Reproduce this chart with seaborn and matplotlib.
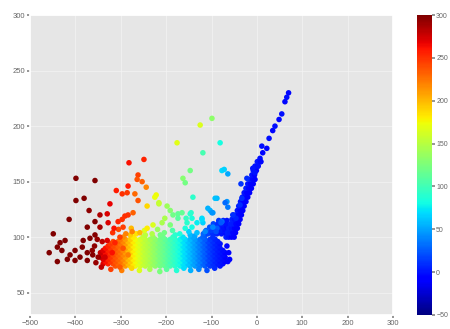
import numpy as np
import pandas as pd
import matplotlib
matplotlib.use("Agg")
import matplotlib.pyplot as plt
import seaborn as sns

# dense horizontal band: two staggered column sets and their colour values
band_a_x = [-345, -334, -323, -312, -301, -290, -279, -268, -257, -246, -235, -224, -213,
            -202, -191, -180, -169, -158, -147, -136, -125, -114, -103, -92, -81, -70]
band_a_c = [278, 263, 249, 237, 226, 210, 193, 175, 162, 152, 142, 132, 122,
            112, 101, 90, 79, 68, 57, 46, 35, 24, 14, 6, 0, -5]
band_b_x = [-350, -339, -328, -317, -306, -295, -284, -273, -262, -251, -240, -229, -218,
            -207, -196, -185, -174, -163, -152, -141, -130, -119, -108, -97, -86, -75]
band_b_c = [285, 270, 256, 242, 231, 218, 200, 182, 168, 156, 147, 137, 126,
            117, 106, 95, 84, 73, 62, 51, 40, 29, 18, 10, 3, -3]
# rows of the band: (y, column set, first col, last col, step)
band_rows = [(74, 'a', 3, 24, 1), (76, 'b', 1, 25, 1),
             (78, 'a', 1, 25, 1), (80, 'b', 1, 25, 1), (82, 'a', 0, 25, 1),
             (84, 'b', 1, 25, 1), (86, 'a', 0, 25, 1), (88, 'b', 1, 25, 1),
             (90, 'a', 1, 24, 1), (92, 'b', 2, 24, 1), (94, 'a', 2, 24, 1),
             (96, 'b', 3, 24, 1), (98, 'a', 4, 23, 1), (100, 'b', 5, 23, 2),
             (102, 'a', 6, 22, 3)]

# ragged edges of the band
edge_x = [-322, -298, -276, -259, -236, -214, -199, -177, -161, -146, -128, -110, -93,
          -318, -305, -289, -277, -266, -248, -231, -219, -204, -186, -170, -150, -137,
          -358, -362, -355, -343, -352, -64, -62, -66, -60]
edge_y = [71, 70, 72, 70, 71, 69, 71, 70, 72, 70, 71, 70, 72,
          104, 107, 103, 108, 103, 106, 103, 107, 104, 106, 103, 105, 101,
          92, 84, 77, 73, 98, 78, 86, 92, 80]
edge_c = [245, 222, 190, 165, 145, 124, 110, 87, 70, 55, 38, 20, 8,
          250, 240, 220, 200, 185, 165, 148, 138, 122, 105, 85, 65, 50,
          295, 298, 292, 280, 292, -6, -6, -4, -8]

# blue fill between the band and the steep branch
tri_x = [-118, -108, -98, -88, -78, -68, -112, -101, -90, -80, -70,
         -104, -94, -84, -74, -66, -96, -86, -76, -68, -84, -74, -66]
tri_y = [103, 103, 103, 103, 103, 103, 106, 106, 106, 106, 106,
         109, 109, 109, 109, 109, 112, 112, 112, 112, 115, 115, 115]
tri_c = [28, 18, 10, 5, 0, -3, 25, 15, 8, 2, -2,
         22, 12, 6, 0, -3, 18, 10, 4, 0, 12, 5, 0]

# steep blue branch
blue_x = [-68, -62, -56, -50, -65, -59, -53, -47, -62, -56, -49, -43, -58, -52, -46, -40,
          -55, -49, -43, -37, -52, -46, -40, -34, -43, -37, -31, -40, -34, -28,
          -36, -30, -24, -32, -26, -20, -28, -22, -16, -24, -18, -12, -20, -14, -8,
          -15, -9, -4, -11, -5, -8, -1, -4, 3, 1, 8, 7, 13, 11, 22, 27, 35, 40, 49,
          55, 62, 66, 70, -9, 2, 9, -4]
blue_y = [100, 100, 100, 100, 104, 104, 104, 104, 108, 108, 108, 108, 112, 112, 112, 112,
          116, 116, 116, 116, 120, 120, 120, 120, 124, 124, 124, 128, 128, 128,
          132, 132, 132, 136, 136, 136, 140, 140, 140, 144, 144, 144, 148, 148, 148,
          152, 152, 152, 156, 156, 160, 160, 164, 164, 168, 168, 171, 176, 182, 180,
          189, 196, 200, 206, 211, 222, 226, 230, 162, 164, 168, 158]
blue_c = [4, 0, -6, -8, 4, 2, -4, -8, 4, 0, -5, -8, 4, 2, -4, -8,
          4, 0, -5, -8, 4, 2, -4, -8, 0, -5, -8, 2, -4, -8,
          0, -5, -8, 2, -4, -8, 0, -5, -8, 2, -4, -8, 0, -5, -8,
          2, -4, -8, 0, -5, 0, -5, 0, -5, 0, -5, -2, -4, -2, -4,
          -2, -4, -2, -4, -2, -4, -2, -4, 0, -2, -4, 0]

# sparse points: far left, above the band, upper scatter
scat_x = [-399, -357, -399, -381, -370, -414, -346, -324, -310, -297, -284, -357, -374,
          -346, -330, -328, -306, -315, -449, -423, -434, -440, -458, -430, -440, -418,
          -412, -401, -385, -383, -390, -374, -363, -368, -357, -341, -350, -335, -374,
          -401, -319, -330, -313, -302, -295, -284,
          -282, -249, -262, -253, -264, -244, -286, -269, -222, -225, -216, -302,
          -176, -125, -99, -81, -119, -147, -163, -158, -141, -77, -72, -64, -88, -35, -22,
          -191, -203, -174, -156, -145, -143, -121, -119, -103, -77, -66, -64, -33, -37,
          -46, -88, -114, -92, -70, -108, -97, -79, -90, -53,
          -291, -284, -273, -262, -242, -216, -198, -185, -174, -165, -147, -143, -154,
          -132, -121, -99, -97, -132, -158, -191, -209, -229, -242, -258, -275, -295, -297]
scat_y = [153, 151, 133, 135, 124, 116, 120, 130, 142, 139, 146, 114, 109,
          109, 121, 113, 114, 108, 103, 97, 95, 91, 86, 88, 78, 80,
          84, 88, 91, 97, 82, 86, 88, 99, 102, 96, 82, 82, 79,
          79, 86, 97, 95, 100, 90, 84,
          167, 170, 156, 150, 152, 145, 140, 139, 138, 136, 131, 73,
          185, 201, 207, 185, 176, 160, 153, 149, 136, 160, 161, 157, 135, 148, 153,
          124, 117, 121, 117, 122, 109, 117, 113, 124, 114, 132, 127, 135, 129,
          117, 108, 105, 135, 131, 126, 122, 113, 105, 120,
          119, 120, 122, 133, 128, 130, 128, 120, 117, 122, 121, 117, 113,
          113, 116, 122, 109, 104, 108, 111, 113, 111, 108, 104, 105, 109, 116]
scat_c = [300, 300, 300, 300, 295, 300, 285, 268, 258, 250, 258, 300, 300,
          288, 272, 272, 255, 262, 300, 300, 300, 300, 300, 300, 300, 300,
          300, 300, 300, 300, 300, 300, 295, 300, 298, 282, 292, 275, 300,
          300, 262, 272, 256, 245, 238, 222,
          262, 255, 245, 232, 238, 218, 248, 230, 175, 172, 158, 235,
          168, 165, 132, 82, 102, 122, 130, 122, 92, 68, 65, 52, 58, 12, 8,
          130, 145, 115, 95, 92, 80, 70, 65, 55, 30, 45, 35, 10, 8,
          5, 25, 40, 60, 30, 55, 45, 25, 20, 10,
          252, 250, 232, 238, 188, 156, 140, 120, 110, 115, 90, 85, 90,
          75, 70, 45, 40, 60, 85, 125, 145, 165, 180, 200, 220, 245, 250]

cols = {'a': (band_a_x, band_a_c), 'b': (band_b_x, band_b_c)}
bx, by, bc = [], [], []
for yv, key, i0, i1, step in band_rows:
    xs, cs = cols[key]
    for i in range(i0, i1 + 1, step):
        bx.append(xs[i])
        by.append(yv)
        bc.append(cs[i])

df = pd.DataFrame({
    'x': bx + edge_x + tri_x + blue_x + scat_x,
    'y': by + edge_y + tri_y + blue_y + scat_y,
    'c': bc + edge_c + tri_c + blue_c + scat_c,
})

sns.set_theme(style="darkgrid", rc={
    'axes.facecolor': '#e6e6e6',
    'grid.color': '#f4f4f4',
    'grid.linewidth': 0.5,
    'xtick.bottom': True,
    'ytick.left': True,
    'xtick.major.size': 2,
    'ytick.major.size': 2,
    'xtick.color': '#888888',
    'ytick.color': '#888888',
})
plt.rcParams['font.family'] = ['Liberation Sans', 'DejaVu Sans']

jet = matplotlib.colormaps['jet']

fig = plt.figure(figsize=(4.5, 3.29), dpi=100)
ax = fig.add_axes([0.067, 0.043, 0.806, 0.911])

sns.scatterplot(data=df, x='x', y='y', hue='c', palette=jet, hue_norm=(-50, 300),
                s=16, linewidth=0, legend=False, ax=ax)

ax.set_xlim(-500, 300)
ax.set_ylim(30, 300)
ax.set_xticks(range(-500, 301, 100))
ax.set_yticks(range(50, 301, 50))
ax.set_xlabel("")
ax.set_ylabel("")
ax.tick_params(labelsize=5.5, labelcolor='#666666', pad=1.5)

sm = plt.cm.ScalarMappable(cmap=jet, norm=plt.Normalize(-50, 300))
cax = fig.add_axes([0.927, 0.043, 0.033, 0.911])
cb = fig.colorbar(sm, cax=cax, ticks=range(-50, 301, 50))
cb.outline.set_visible(False)
cax.tick_params(labelsize=5, labelcolor='#666666', length=2, color='#888888', pad=1)

fig.savefig("out.png", dpi=100)
